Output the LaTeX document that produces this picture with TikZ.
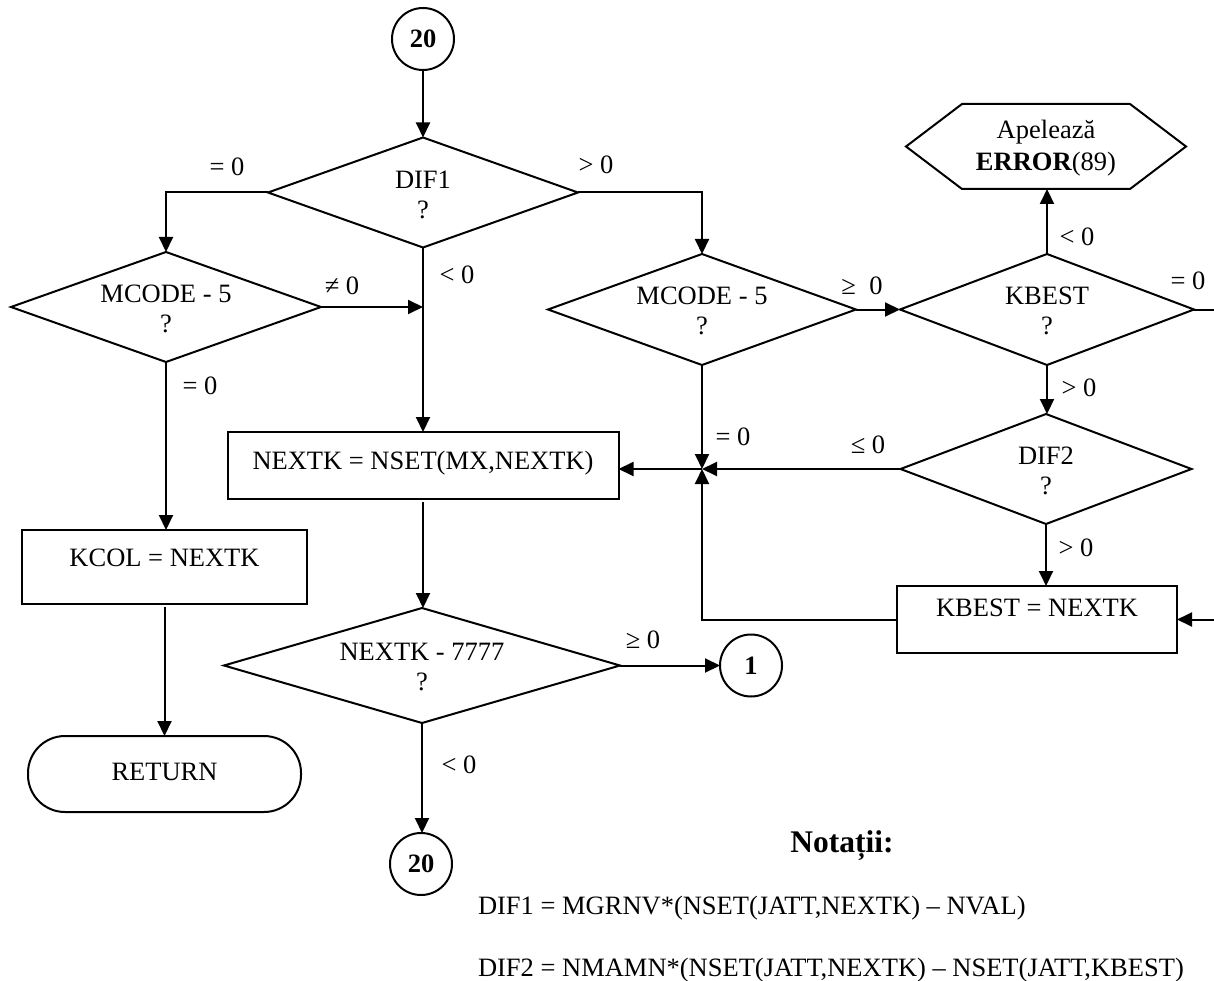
\documentclass[tikz,border=0pt]{standalone}
\usepackage{fontspec}
\setmainfont{Liberation Serif}
\usetikzlibrary{shapes.geometric,arrows.meta,calc}
\begin{document}
\begin{tikzpicture}[x=1pt,y=-1pt,
  line width=2pt,
  every node/.style={inner sep=0pt, outer sep=0pt},
  txt/.style={font=\fontsize{26.5}{30}\selectfont, align=center},
  lbl/.style={font=\fontsize{26.5}{30}\selectfont},
  decision/.style n args={2}{draw, diamond, minimum width=#1, minimum height=#2},
  procbox/.style n args={2}{draw, rectangle, minimum width=#1, minimum height=#2},
  terminal/.style n args={2}{draw, rectangle, rounded corners=37pt, minimum width=#1, minimum height=#2},
  connector/.style={draw, circle, minimum size=62pt, font=\bfseries\fontsize{26.5}{30}\selectfont},
  flow/.style={-{Triangle[length=15pt,width=14pt]}}
]
\useasboundingbox (0,0) rectangle (1214,981);
\clip (0,0) rectangle (1214,981);

% entry connector and first test
\node[connector] (c20) at (423,39) {20};
\node[decision={310}{110}] (d1) at (423,192.5) {};
\node[txt] (d1t) at (423,194.5) {DIF1\\?};

% left branch
\node[decision={310}{110}] (ml) at (166,307) {};
\node[txt] (mlt) at (166,309) {MCODE - 5\\?};
\node[procbox={285}{74}] (kc) at (164.5,567) {};
\node[lbl, anchor=base] (kct) at (164.5,566.5) {KCOL = NEXTK};
\node[terminal={273}{76}] (ret) at (164.5,774) {};
\node[lbl, anchor=base] (rett) at (164.5,780) {RETURN};

% main column
\node[procbox={391}{67}] (nx) at (423,465.5) {};
\node[lbl, anchor=base] (nxt) at (423,469) {NEXTK = NSET(MX,NEXTK)};
\node[decision={396}{115}] (n7) at (422,665.5) {};
\node[txt] (n7t) at (422,667) {NEXTK - 7777\\?};
\node[connector] (c1) at (751,665.5) {1};
\node[connector] (c20b) at (421,864) {20};

% right branch
\node[decision={308}{111}] (mr) at (702,309.5) {};
\node[txt] (mrt) at (702,311) {MCODE - 5\\?};
\node[decision={294}{111}] (kb) at (1047,309.5) {};
\node[txt] (kbt) at (1047,311) {KBEST\\?};
\node[decision={291}{110}] (d2) at (1046,469) {};
\node[txt] (d2t) at (1046,471) {DIF2\\?};
\node[procbox={280}{67}] (kbn) at (1037,619.5) {};
\node[lbl, anchor=base] (kbnt) at (1037,616) {KBEST = NEXTK};

% error call (hexagon)
\node[minimum width=280pt, minimum height=85pt] (hex) at (1046,146.5) {};
\draw (hex.west) -- ([xshift=56pt]hex.north west) -- ([xshift=-56pt]hex.north east)
  -- (hex.east) -- ([xshift=-56pt]hex.south east) -- ([xshift=56pt]hex.south west) -- cycle;
\node[lbl, anchor=base] (hext1) at (1046,139) {Apelează};
\node[lbl, anchor=base] (hext2) at (1046,171) {\textbf{ERROR}(89)};

% junction before NEXTK = NSET(...)
\coordinate (J) at (702,469);

% connectors
\draw[flow] (c20.south) -- (d1.north);
\draw[flow] (d1.west) -| (ml.north);
\draw[flow] (d1.east) -| (mr.north);
\draw[flow] (d1.south) -- (d1.south |- nx.north);
\draw[flow] (ml.east) -- (ml.east -| d1.south);
\draw[flow] (ml.south) -- (ml.south |- kc.north);
\draw[flow, shorten <=3pt] (kc.south) -- (kc.south |- ret.north);
\draw[flow, shorten <=3pt] (nx.south) -- (nx.south |- n7.north);
\draw[flow] (n7.east) -- (c1.west);
\draw[flow] (n7.south) -- (n7.south |- c20b.north);
\draw[flow] (mr.east) -- (kb.west);
\draw[flow] (kb.north) -- (kb.north |- hex.south);
\draw[flow] (kb.south) -- (kb.south |- d2.north);
\draw[flow] (d2.south) -- (d2.south |- kbn.north);
\draw[flow] (d2.west) -- (J);
\draw[flow] (mr.south) -- (J);
\draw[flow] (kbn.west) -| (J);
\draw[flow] (J) -- (J -| nx.east);
\draw[flow] (kb.east) -- ++(40,0) |- (kbn.east);

% branch labels
\node[lbl] (l1) at (227,167) {= 0};
\node[lbl] (l2) at (596,165) {> 0};
\node[lbl] (l3) at (342,286) {≠ 0};
\node[lbl] (l4) at (457,275) {< 0};
\node[lbl] (l5) at (200,386) {= 0};
\node[lbl] (l6) at (862,286) {≥\ \ 0};
\node[lbl] (l7) at (1188,281) {= 0};
\node[lbl] (l8) at (1077,237) {< 0};
\node[lbl] (l9) at (1079,388) {> 0};
\node[lbl] (l10) at (868,445) {≤ 0};
\node[lbl] (l11) at (733,437) {= 0};
\node[lbl] (l12) at (1076,548) {> 0};
\node[lbl] (l13) at (643,640) {≥ 0};
\node[lbl] (l14) at (459,765) {< 0};

% notation block
\node[font=\bfseries\fontsize{31.5}{34}\selectfont, anchor=base] (nt) at (842,852) {Notații:};
\node[lbl, anchor=base west] (def1) at (478,914) {DIF1 = MGRNV*(NSET(JATT,NEXTK) – NVAL)};
\node[lbl, anchor=base west] (def2) at (478,976) {DIF2 = NMAMN*(NSET(JATT,NEXTK) – NSET(JATT,KBEST)};
\end{tikzpicture}
\end{document}
